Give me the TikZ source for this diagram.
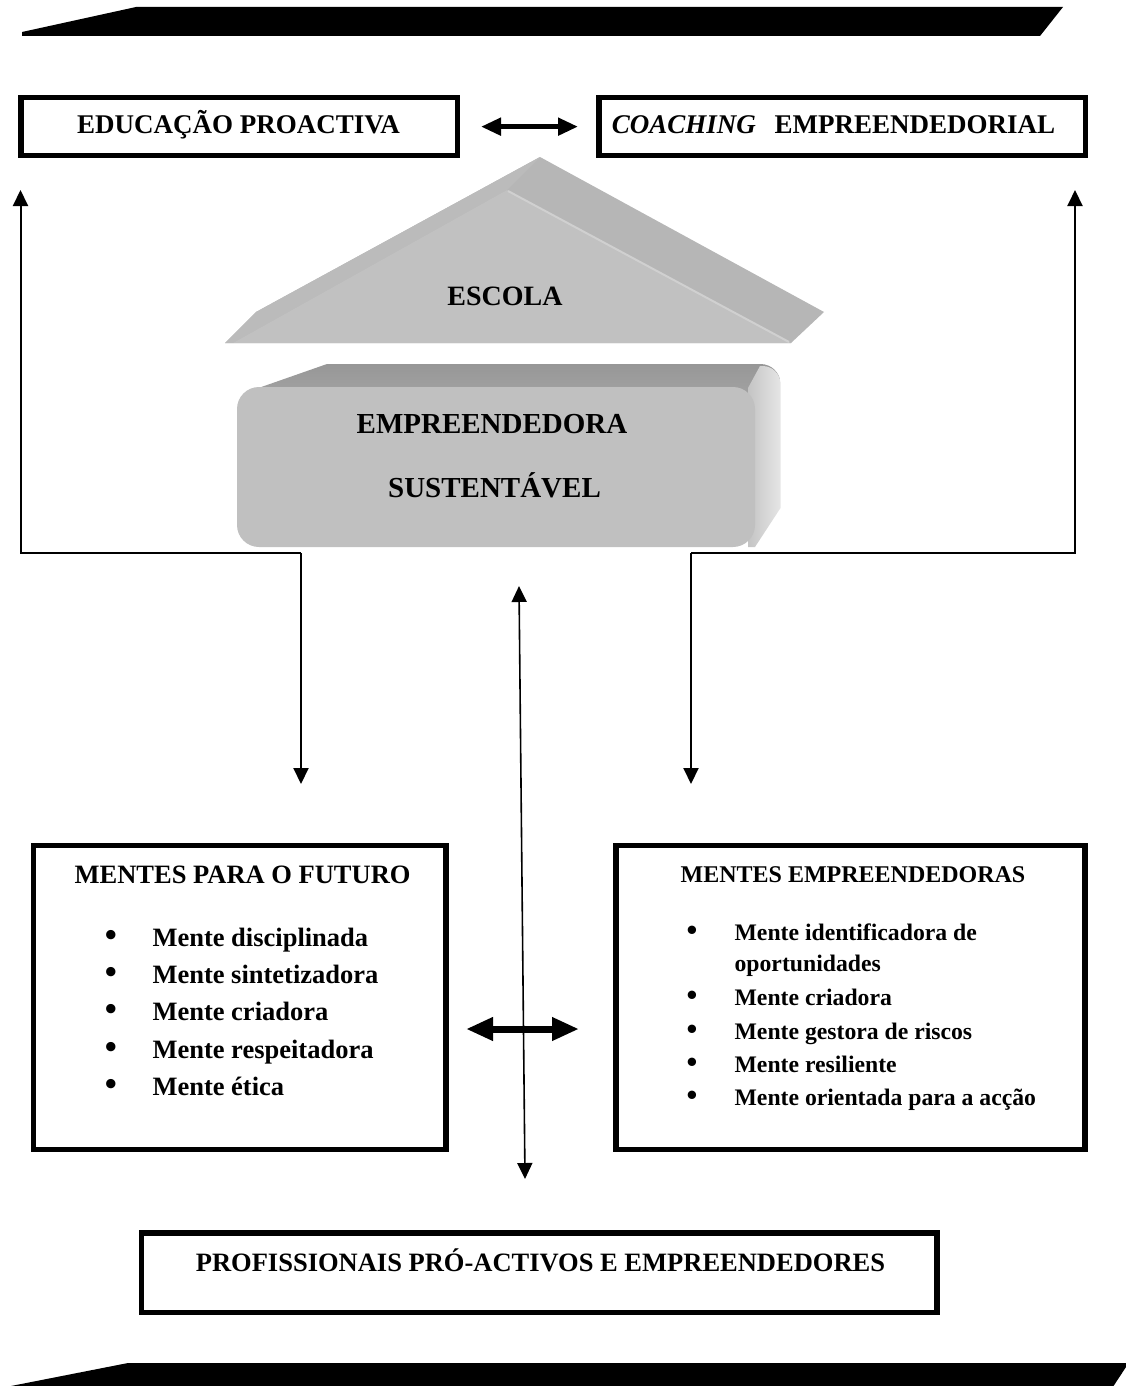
\documentclass[tikz,border=0pt]{standalone}
\usepackage{fontspec}
\setmainfont{Liberation Serif}
\usetikzlibrary{arrows.meta}

\definecolor{roofback}{HTML}{B6B6B6}
\definecolor{roofleft}{HTML}{BBBBBB}
\definecolor{rooffront}{HTML}{C1C1C1}
\definecolor{ridge}{HTML}{D0D0D0}
\definecolor{blockfront}{HTML}{C0C0C0}
\definecolor{blocktopA}{HTML}{979797}
\definecolor{blocktopB}{HTML}{ABABAB}
\definecolor{blocksideA}{HTML}{C4C4C4}
\definecolor{blocksideB}{HTML}{E6E6E6}

\tikzset{
  frame/.style={draw=black, line width=5.5pt, inner sep=0pt, fill=white},
  txt/.style={inner sep=0pt, anchor=base, font=\fontsize{#1}{#1}\selectfont\bfseries},
  itemtxt/.style={inner sep=0pt, anchor=base west, font=\fontsize{#1}{#1}\selectfont\bfseries},
  dot/.style={inner sep=0pt, anchor=base, font=\fontsize{#1}{#1}\selectfont\bfseries},
  flow/.style={line width=2pt, -{Triangle[length=16pt,width=15pt]}},
  flowboth/.style={line width=1.6pt, {Triangle[length=16pt,width=15pt]}-{Triangle[length=16pt,width=15pt]}},
  dblsmall/.style={line width=4.8pt, {Triangle[length=20pt,width=17pt]}-{Triangle[length=20pt,width=17pt]}},
  dblbig/.style={line width=7pt, {Triangle[length=27pt,width=22pt]}-{Triangle[length=27pt,width=22pt]}},
}
\newcommand{\bigbullet}{\scalebox{1.3}{\textbullet}}

\begin{document}
\begin{tikzpicture}[x=1pt,y=-1pt]
\useasboundingbox (0,0) rectangle (1126,1386);

% black bars, top and bottom
\fill[black] (22,36) -- (22,32) -- (136,7) -- (1063,7) -- (1040,36) -- cycle;
\fill[black] (11,1386) -- (128,1363) -- (1126,1363) -- (1126,1367) -- (1113.5,1386) -- cycle;

% roof
\fill[roofback] (225,343) -- (256,312) -- (540,157) -- (824,312) -- (791,343) -- cycle;
\fill[roofleft] (225,343) -- (256,312) -- (540,157) -- (507,190) -- (233,343) -- cycle;
\fill[rooffront] (233,343) -- (507,190) -- (791,343) -- cycle;
\draw[ridge, line width=2pt] (508,191) -- (789,342);
\node[txt=28] (escola) at (505,305) {ESCOLA};

% block: top face, side face, front face
\shade[top color=blocktopA, bottom color=blocktopB]
  (247,392) -- (327,364) [rounded corners=20pt] -- (780.5,364) [sharp corners] -- (780.5,420) -- (740,420) -- (247,420) -- cycle;
\shade[left color=blocksideA, right color=blocksideB]
  (748,388) -- (760,366) [rounded corners=18pt] -- (780.5,366) -- (780.5,400) [sharp corners] -- (780.5,508) -- (755,547) -- (748,547) -- cycle;
\fill[blockfront, rounded corners=22pt] (237,387) rectangle (755,547);
\node[txt=29] (empr) at (492,433) {EMPREENDEDORA};
\node[txt=29] (sust) at (494.5,497) {SUSTENTÁVEL};

% top boxes
\node[frame, minimum width=436.5pt, minimum height=57.8pt] (edu) at (239,126.65) {};
\node[frame, minimum width=486.2pt, minimum height=57.8pt] (coach) at (842.15,126.65) {};
\node[txt=27] (edutxt) at (238.5,133) {EDUCAÇÃO PROACTIVA};
\node[txt=27] (coachtxt) at (833.5,133) {\textit{COACHING}\hspace{12pt} EMPREENDEDORIAL};
\draw[dblsmall] ([xshift=21pt]edu.east) -- ([xshift=-18.3pt]coach.west);

% lower boxes
\node[frame, minimum width=412.4pt, minimum height=304pt] (futuro) at (239.55,997.5) {};
\node[frame, minimum width=468.9pt, minimum height=304pt] (mentes) at (850.6,997.5) {};
\node[frame, minimum width=795.3pt, minimum height=79.5pt] (prof) at (539.1,1272.5) {};

\node[txt=26.5] (futtitle) at (242.6,883) {MENTES PARA O FUTURO};
\foreach \t [count=\i] in {Mente disciplinada, Mente sintetizadora, Mente criadora, Mente respeitadora, Mente ética}{
  \pgfmathsetmacro{\yy}{946.7+37.1*(\i-1)}
  \node[dot=26.5] (fb\i) at (111,\yy) {\bigbullet};
  \node[itemtxt=26.5] (fi\i) at (152.3,\yy) {\t};
}

\node[txt=24] (emptitle) at (853,882) {MENTES EMPREENDEDORAS};
\node[dot=23.7] (eb1) at (692,940.7) {\bigbullet};
\node[itemtxt=23.7] (ei1) at (734.4,940.7) {Mente identificadora de};
\node[itemtxt=23.7] (ei1b) at (734.4,971.7) {oportunidades};
\foreach \t [count=\i from 2] in {Mente criadora, Mente gestora de riscos, Mente resiliente, Mente orientada para a acção}{
  \pgfmathsetmacro{\yy}{1005.7+33.3*(\i-2)}
  \node[dot=23.7] (eb\i) at (692,\yy) {\bigbullet};
  \node[itemtxt=23.7] (ei\i) at (734.4,\yy) {\t};
}

\node[txt=26.5] (proftxt) at (540.5,1271) {PROFISSIONAIS PRÓ-ACTIVOS E EMPREENDEDORES};

% feedback loops
\coordinate (lcorner) at (20.5,553);
\coordinate (ltip) at (20.5,190);
\coordinate (lknee) at (301,553);
\coordinate (ldown) at (301,784);
\coordinate (rcorner) at (1075,553);
\coordinate (rtip) at (1075,190);
\coordinate (rknee) at (691,553);
\coordinate (rdown) at (691,784);
\draw[flow] (lknee) -- (lcorner) -- (ltip);
\draw[flow] (lknee) -- (ldown);
\draw[flow] (rknee) -- (rcorner) -- (rtip);
\draw[flow] (rknee) -- (rdown);

% central vertical link
\coordinate (vtop) at (519,586);
\coordinate (vbot) at (525,1179);
\draw[flowboth] (vtop) -- (vbot);

% link between the two lower boxes
\coordinate (mleft) at (466,1029);
\coordinate (mright) at (579,1029);
\draw[dblbig] (mleft) -- (mright);
\end{tikzpicture}
\end{document}
